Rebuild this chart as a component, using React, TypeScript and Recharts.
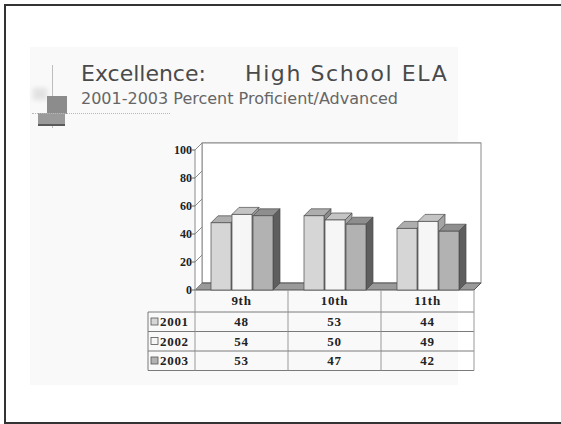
import { BarChart, Bar, XAxis, YAxis, CartesianGrid, ReferenceArea } from "recharts";

// proficiency by grade and year
const grades = ["9th", "10th", "11th"];
const years = ["2001", "2002", "2003"];
const scores2001 = [48, 53, 44];
const scores2002 = [54, 50, 49];
const scores2003 = [53, 47, 42];
const yTicks = [0, 20, 40, 60, 80, 100];

const yearScores = [scores2001, scores2002, scores2003];

const data = grades.map((grade, i) => ({
  grade,
  y2001: scores2001[i],
  y2002: scores2002[i],
  y2003: scores2003[i],
}));

// chart frame
const CHART_W = 561;
const CHART_H = 424;
const PLOT_LEFT = 202;
const PLOT_TOP = 143;
const PLOT_W = 279;
const PLOT_H = 140;
const BAND = PLOT_W / grades.length;

// 3d depth: the back wall sits up and to the right of the front
const DX = 7;
const DY = 7;

// table under the floor
const HEADER_H = 22;
const ROW_H = 19.5;
const LABEL_W = 47;

const serif = "'Liberation Serif', 'Times New Roman', serif";
const sans = "'DejaVu Sans', Verdana, sans-serif";

const SERIES = [
  { key: "y2001", front: "#d6d6d6", top: "#aeaeae", side: "#8a8a8a" },
  { key: "y2002", front: "#f6f6f6", top: "#c4c4c4", side: "#a4a4a4" },
  { key: "y2003", front: "#b2b2b2", top: "#8e8e8e", side: "#5e5e5e" },
];

const EDGE = "#4a4a4a";

function make3dBar(front: string, top: string, side: string) {
  return (props: any) => {
    const { x, y, width, height } = props;
    if (width == null || height == null) return <g />;
    const fx = x - DX;
    const fy = y + DY;
    return (
      <g>
        <polygon
          points={`${fx},${fy} ${x},${y} ${x + width},${y} ${fx + width},${fy}`}
          fill={top}
          stroke={EDGE}
          strokeWidth={0.7}
        />
        <polygon
          points={`${fx + width},${fy} ${x + width},${y} ${x + width},${y + height} ${fx + width},${fy + height}`}
          fill={side}
          stroke={EDGE}
          strokeWidth={0.7}
        />
        <rect x={fx} y={fy} width={width} height={height} fill={front} stroke={EDGE} strokeWidth={0.7} />
      </g>
    );
  };
}

// walls and floor of the box
function Walls(props: any) {
  const { x, y, width, height } = props;
  const b = y + height;
  return (
    <g>
      <rect x={x} y={y} width={width} height={height} fill="#fff" stroke="#8a8a8a" strokeWidth={1} />
      <polygon
        points={`${x - DX},${y + DY} ${x},${y} ${x},${b} ${x - DX},${b + DY}`}
        fill="#fff"
        stroke="#8a8a8a"
        strokeWidth={1}
      />
      <polygon
        points={`${x - DX},${b + DY} ${x},${b} ${x + width},${b} ${x + width - DX},${b + DY}`}
        fill="#9a9a9a"
        stroke="#555"
        strokeWidth={1}
      />
    </g>
  );
}

function DepthTick(props: any) {
  const { x, y, payload } = props;
  const fx = x - DX;
  const fy = y + DY;
  return (
    <g>
      <line x1={fx} y1={fy} x2={x} y2={y} stroke="#8a8a8a" />
      <line x1={fx - 3} y1={fy} x2={fx} y2={fy} stroke="#666" />
      <text
        x={fx - 3}
        y={fy}
        dy={4}
        textAnchor="end"
        fontFamily={serif}
        fontWeight="bold"
        fontSize={12}
        fill="#222"
      >
        {payload.value}
      </text>
    </g>
  );
}

const LINE = "#7a7a7a";

// each x tick draws its column of the data table
function TableColumn(props: any) {
  const { x, y, index } = props;
  const cx = x - DX;
  const top = y + DY;
  const left = cx - BAND / 2;
  const right = cx + BAND / 2;
  const bottom = top + HEADER_H + ROW_H * years.length;
  const rowTop = (r: number) => top + HEADER_H + ROW_H * r;
  const text = {
    fontFamily: serif,
    fontWeight: "bold" as const,
    fontSize: 13,
    fill: "#222",
    letterSpacing: 0.7,
  };
  return (
    <g>
      <text x={cx} y={top + 15} textAnchor="middle" {...text}>
        {grades[index]}
      </text>
      {yearScores.map((scores, r) => (
        <text key={r} x={cx} y={rowTop(r) + 14} textAnchor="middle" {...text}>
          {scores[index]}
        </text>
      ))}
      {years.map((_, r) => (
        <line key={r} x1={left} y1={rowTop(r)} x2={right} y2={rowTop(r)} stroke={LINE} />
      ))}
      <line x1={left} y1={bottom} x2={right} y2={bottom} stroke={LINE} />
      <line x1={right} y1={top} x2={right} y2={bottom} stroke="#999" />
      {index === 0 && (
        <g>
          <line x1={left} y1={top} x2={left} y2={bottom} stroke="#999" />
          <line x1={left - LABEL_W} y1={rowTop(0)} x2={left - LABEL_W} y2={bottom} stroke={LINE} />
          {years.map((yr, r) => (
            <g key={yr}>
              <line x1={left - LABEL_W} y1={rowTop(r)} x2={left} y2={rowTop(r)} stroke={LINE} />
              <rect
                x={left - LABEL_W + 3}
                y={rowTop(r) + 6}
                width={7}
                height={7}
                fill={SERIES[r].front}
                stroke="#555"
                strokeWidth={0.8}
              />
              <text x={left - LABEL_W + 12} y={rowTop(r) + 14} {...text}>
                {yr}
              </text>
            </g>
          ))}
          <line x1={left - LABEL_W} y1={bottom} x2={left} y2={bottom} stroke={LINE} />
        </g>
      )}
    </g>
  );
}

function Logo() {
  return (
    <>
      <div style={{ position: "absolute", left: 33, top: 88, width: 14, height: 12, background: "#e2e2e2", filter: "blur(2px)" }} />
      <div style={{ position: "absolute", left: 52, top: 65, width: 1, height: 63, background: "#bdbdbd" }} />
      <div style={{ position: "absolute", left: 47, top: 96, width: 20, height: 18, background: "#8c8c8c", filter: "blur(0.6px)" }} />
      <div style={{ position: "absolute", left: 38, top: 113, width: 27, height: 11, background: "#9a9a9a", borderBottom: "2px solid #5a5a5a", filter: "blur(0.4px)" }} />
      <div style={{ position: "absolute", left: 32, top: 113, width: 138, height: 0, borderTop: "1px dotted #b8b8b8" }} />
    </>
  );
}

export default function App() {
  return (
    <div
      style={{
        position: "absolute",
        left: 0,
        top: 0,
        width: CHART_W,
        height: CHART_H,
        overflow: "hidden",
        background: "#fff",
      }}
    >
      <div
        style={{
          position: "absolute",
          left: 4,
          top: 4,
          width: CHART_W - 6,
          height: 416,
          borderLeft: "2px solid #333",
          borderTop: "2px solid #333",
          borderBottom: "2px solid #333",
          borderRight: "none",
        }}
      />
      <div style={{ position: "absolute", left: 30, top: 47, width: 428, height: 338, background: "#f9f9f9" }} />
      <Logo />
      <div
        style={{
          position: "absolute",
          left: 81,
          top: 61,
          fontFamily: sans,
          fontSize: 22,
          color: "#4a4a4a",
          whiteSpace: "pre",
          lineHeight: "26px",
        }}
      >
        <span>Excellence:</span>
        <span style={{ position: "absolute", left: 164, letterSpacing: 1.6 }}>High School ELA</span>
      </div>
      <div
        style={{
          position: "absolute",
          left: 81,
          top: 89,
          fontFamily: sans,
          fontSize: 16,
          color: "#666",
          whiteSpace: "pre",
          lineHeight: "20px",
        }}
      >
        2001-2003 Percent Proficient/Advanced
      </div>
      <div style={{ position: "absolute", left: 0, top: 0 }}>
        <BarChart
          width={CHART_W}
          height={CHART_H}
          data={data}
          margin={{
            top: PLOT_TOP,
            left: PLOT_LEFT - 1,
            right: CHART_W - PLOT_LEFT - PLOT_W,
            bottom: CHART_H - PLOT_TOP - PLOT_H - 1,
          }}
          barCategoryGap={16}
          barGap={1}
        >
          <ReferenceArea y1={0} y2={100} shape={Walls} />
          <CartesianGrid vertical={false} stroke="#8a8a8a" />
          <XAxis
            dataKey="grade"
            height={1}
            interval={0}
            axisLine={false}
            tickLine={false}
            tickSize={0}
            tickMargin={0}
            tick={TableColumn}
          />
          <YAxis
            width={1}
            domain={[0, 100]}
            ticks={yTicks}
            interval={0}
            axisLine={false}
            tickLine={false}
            tickSize={0}
            tickMargin={0}
            tick={DepthTick}
          />
          {SERIES.map((s) => (
            <Bar
              key={s.key}
              dataKey={s.key}
              isAnimationActive={false}
              fill={s.front}
              shape={make3dBar(s.front, s.top, s.side)}
            />
          ))}
        </BarChart>
      </div>
    </div>
  );
}
